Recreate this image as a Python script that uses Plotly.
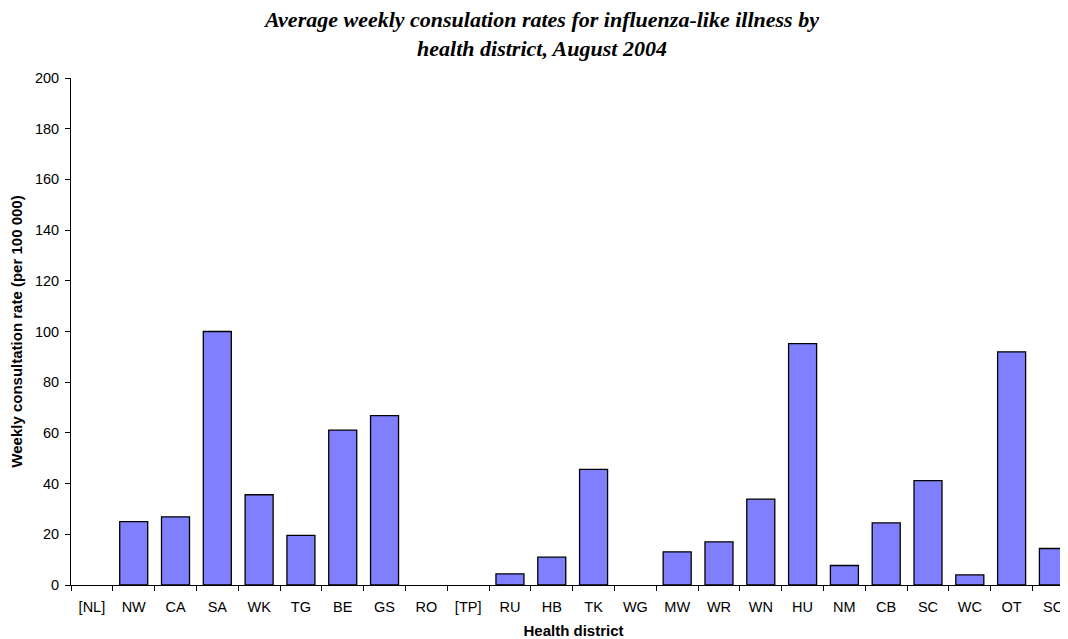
import plotly.graph_objects as go

districts = ["[NL]", "NW", "CA", "SA", "WK", "TG", "BE", "GS", "RO", "[TP]", "RU", "HB",
             "TK", "WG", "MW", "WR", "WN", "HU", "NM", "CB", "SC", "WC", "OT", "SO"]
rates = [0, 25.0, 26.9, 100.0, 35.6, 19.6, 61.1, 66.8, 0, 0, 4.4, 11.0,
         45.6, 0, 13.1, 17.0, 33.9, 95.2, 7.7, 24.5, 41.2, 4.0, 92.0, 14.4]

edge_widths = [0 if v == 0 else 1.3 for v in rates]

fig = go.Figure(go.Bar(
    x=districts, y=rates,
    marker=dict(color="#8080FF", line=dict(color="black", width=edge_widths)),
    width=0.67,
))

fig.update_layout(
    width=1068, height=639,
    paper_bgcolor="white", plot_bgcolor="white",
    margin=dict(l=63, r=0, t=70, b=62, autoexpand=False),
    showlegend=False,
    title=dict(
        text="Average weekly consulation rates for influenza-like illness by<br>health district, August 2004",
        font=dict(family="Liberation Serif", size=22, color="black", weight="bold", style="italic"),
        x=0.5, xanchor="center", xref="container",
        yref="paper", y=1, yanchor="bottom", pad=dict(b=51),
    ),
    font=dict(family="Liberation Sans", size=14, color="black"),
    xaxis=dict(
        type="category", range=[-0.5, 23.54],
        showline=True, linecolor="black", linewidth=1,
        ticks="outside", ticklen=5, tickcolor="black", tickson="boundaries",
        showgrid=False, zeroline=False,
        tickfont=dict(family="Liberation Sans", size=14.5),
        ticklabelstandoff=9,
        title=dict(text="Health district", font=dict(family="Liberation Sans", size=15, weight="bold"), standoff=11),
        automargin=False,
    ),
    yaxis=dict(
        range=[0, 200], dtick=20, tick0=0,
        showline=True, linecolor="black", linewidth=1,
        ticks="outside", ticklen=5, tickcolor="black",
        showgrid=False, zeroline=False,
        tickfont=dict(family="Liberation Sans", size=14.5),
        ticklabelstandoff=3,
        title=dict(text="Weekly consultation rate (per 100 000)", font=dict(family="Liberation Sans", size=15, weight="bold"), standoff=10),
        automargin=False,
    ),
    bargap=0.33,
)

fig.write_html("out.html")
